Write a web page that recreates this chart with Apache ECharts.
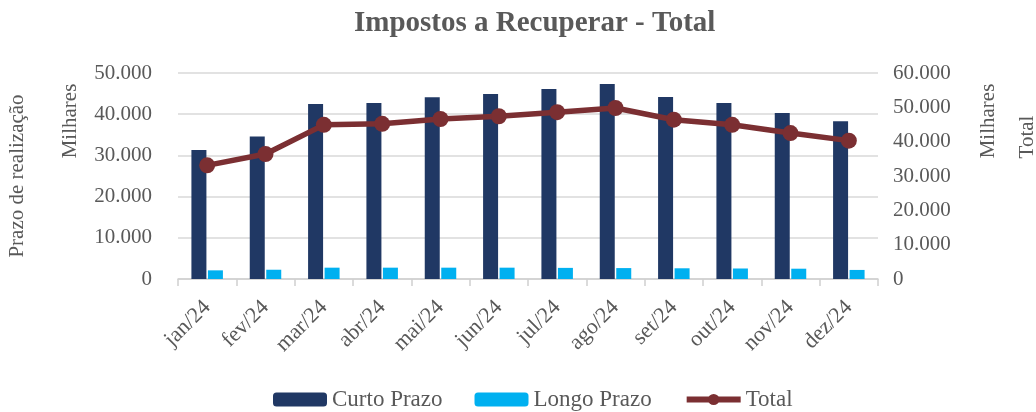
<!DOCTYPE html>
<html>
<head>
<meta charset="utf-8">
<script src="https://cdn.jsdelivr.net/npm/echarts@6/dist/echarts.min.js"></script>
<style>
  * { margin: 0; padding: 0; }
  body { background: #fff; }
  #chart { width: 1036px; height: 412px; }
</style>
</head>
<body>
<div id="chart"></div>
<script>
// dados (milhares)
var meses = ['jan/24', 'fev/24', 'mar/24', 'abr/24', 'mai/24', 'jun/24', 'jul/24', 'ago/24', 'set/24', 'out/24', 'nov/24', 'dez/24']
var curtoPrazo = [31300, 34600, 42500, 42700, 44100, 44900, 46100, 47300, 44200, 42700, 40300, 38300]
var longoPrazo = [2100, 2250, 2750, 2750, 2750, 2750, 2700, 2650, 2600, 2550, 2500, 2200]
var total = [33100, 36400, 44900, 45200, 46600, 47400, 48600, 49800, 46400, 44900, 42500, 40300]

var fonte = '"Liberation Serif", "DejaVu Serif", serif'
var cinza = '#595959'
var vinho = '#7B2F32'

// 50000 -> "50.000"
var fmt = function (v) {
  return String(v).replace(/\B(?=(\d{3})+(?!\d))/g, '.')
}

// texto vertical (lido de baixo para cima), centrado em x,y
var vertical = function (txt, x, y) {
  return {
    type: 'text', x: x, y: y, rotation: Math.PI / 2,
    style: { text: txt, font: '21px ' + fonte, fill: cinza, textAlign: 'center', textVerticalAlign: 'middle' }
  }
}

var option = {
  backgroundColor: '#fff',
  textStyle: { fontFamily: fonte, color: cinza },
  title: {
    text: 'Impostos a Recuperar - Total',
    left: 349,
    top: 4,
    textStyle: { fontFamily: fonte, fontSize: 29, fontWeight: 'bold', color: cinza }
  },
  grid: { left: 178, right: 158, top: 73, bottom: 133 },
  legend: {
    bottom: -4,
    left: 268,
    itemWidth: 54,
    itemHeight: 14,
    itemGap: 32,
    textStyle: { fontFamily: fonte, fontSize: 23, color: cinza },
    data: [
      { name: 'Curto Prazo' },
      { name: 'Longo Prazo' },
      { name: 'Total', itemStyle: { color: vinho }, lineStyle: { width: 6, color: vinho } }
    ]
  },
  xAxis: {
    type: 'category',
    data: meses,
    axisLine: { lineStyle: { color: '#d0d0d0', width: 1.5 } },
    axisTick: { show: true, length: 7, lineStyle: { color: '#d0d0d0', width: 1.5 } },
    axisLabel: { rotate: 45, fontSize: 22, color: cinza, fontFamily: fonte, margin: 25 }
  },
  yAxis: [
    {
      type: 'value',
      min: 0,
      max: 50000,
      interval: 10000,
      axisLine: { show: false },
      axisTick: { show: false },
      splitLine: { lineStyle: { color: '#d9d9d9', width: 1.5 } },
      axisLabel: { fontSize: 21, color: cinza, fontFamily: fonte, margin: 26, formatter: fmt }
    },
    {
      type: 'value',
      min: 0,
      max: 60000,
      interval: 10000,
      axisLine: { show: false },
      axisTick: { show: false },
      splitLine: { show: false },
      axisLabel: { fontSize: 21, color: cinza, fontFamily: fonte, margin: 15, formatter: fmt }
    }
  ],
  graphic: [
    vertical('Prazo de realização', 17, 176),
    vertical('Milhares', 70, 121),
    vertical('Milhares', 988, 121),
    vertical('Total', 1027, 137)
  ],
  series: [
    {
      name: 'Curto Prazo',
      type: 'bar',
      data: curtoPrazo,
      barWidth: 15,
      barGap: '10%',
      itemStyle: { color: '#203864' }
    },
    {
      name: 'Longo Prazo',
      type: 'bar',
      data: longoPrazo,
      barWidth: 15,
      itemStyle: { color: '#00B0F0' }
    },
    {
      name: 'Total',
      type: 'line',
      yAxisIndex: 1,
      data: total,
      symbol: 'circle',
      symbolSize: 16,
      lineStyle: { color: vinho, width: 5.5 },
      itemStyle: { color: vinho }
    }
  ]
}

var chart = echarts.init(document.getElementById('chart'))
chart.setOption(option)
</script>
</body>
</html>
